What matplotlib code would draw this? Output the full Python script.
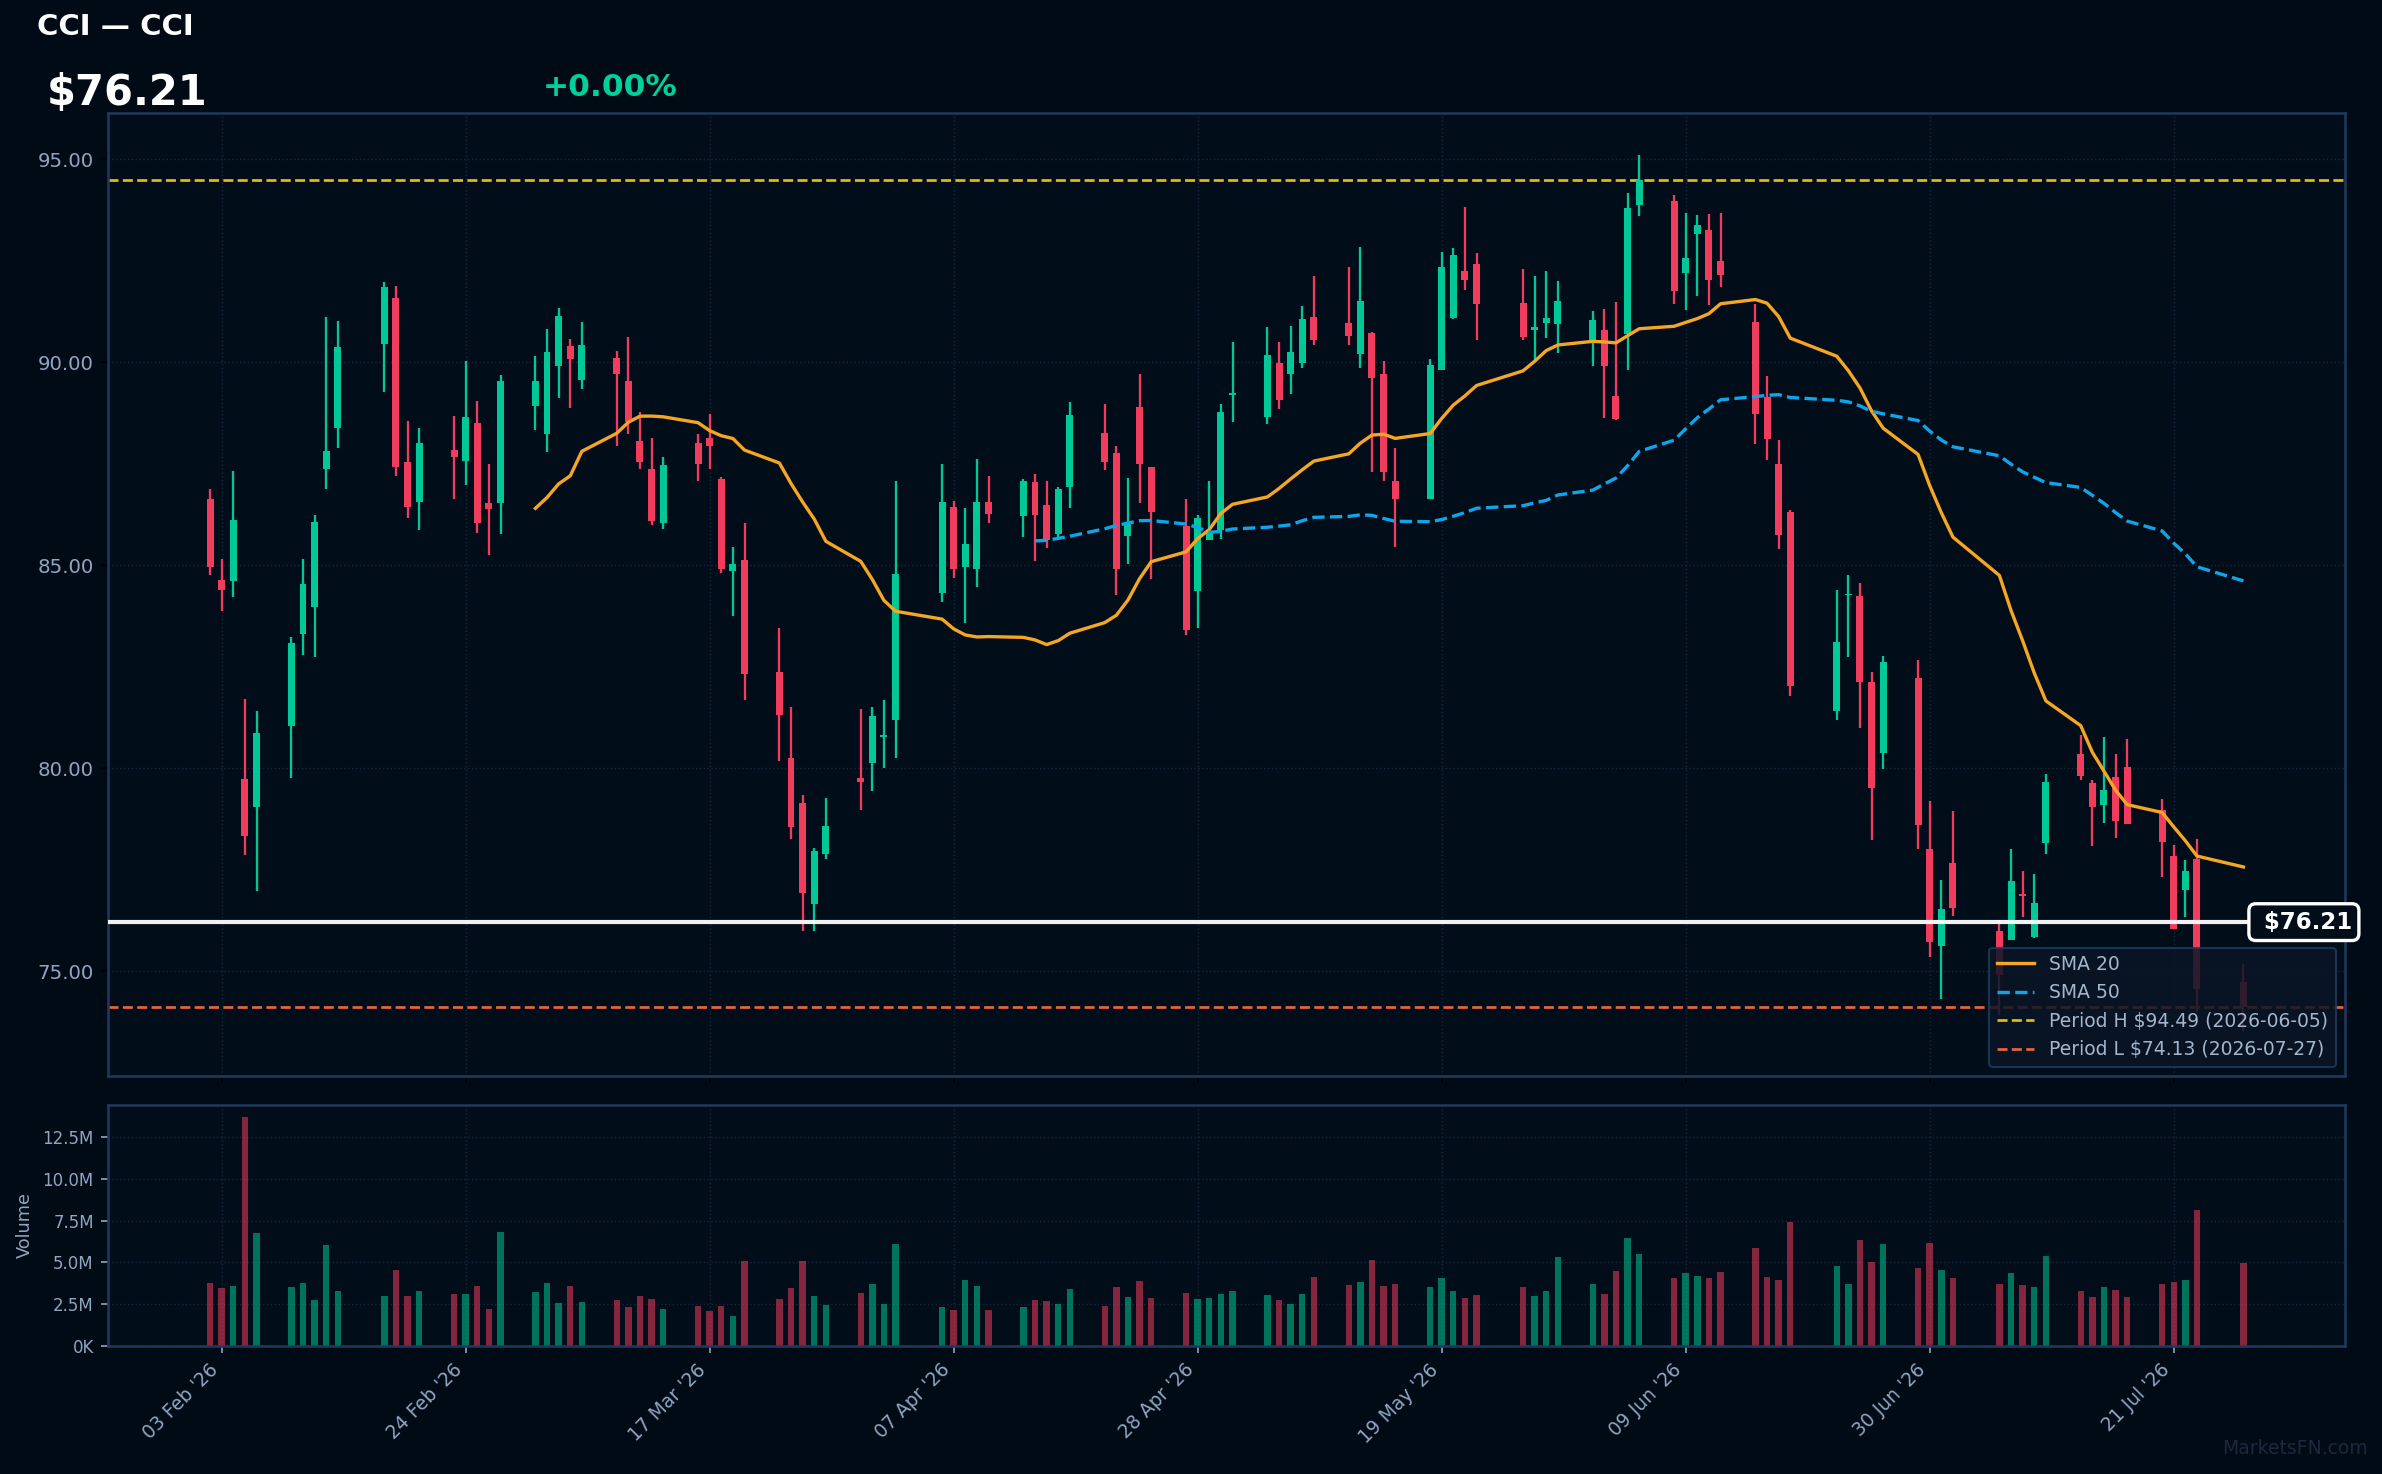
import matplotlib
matplotlib.use("Agg")
import matplotlib.pyplot as plt
import matplotlib.dates as mdates
from matplotlib.ticker import FuncFormatter, MultipleLocator
import numpy as np
import pandas as pd

# ---- data ----
dates = [
    "2026-02-02", "2026-02-03", "2026-02-04", "2026-02-05", "2026-02-06",
    "2026-02-09", "2026-02-10", "2026-02-11", "2026-02-12", "2026-02-13",
    "2026-02-17", "2026-02-18", "2026-02-19", "2026-02-20",
    "2026-02-23", "2026-02-24", "2026-02-25", "2026-02-26", "2026-02-27",
    "2026-03-02", "2026-03-03", "2026-03-04", "2026-03-05", "2026-03-06",
    "2026-03-09", "2026-03-10", "2026-03-11", "2026-03-12", "2026-03-13",
    "2026-03-16", "2026-03-17", "2026-03-18", "2026-03-19", "2026-03-20",
    "2026-03-23", "2026-03-24", "2026-03-25", "2026-03-26", "2026-03-27",
    "2026-03-30", "2026-03-31", "2026-04-01", "2026-04-02",
    "2026-04-06", "2026-04-07", "2026-04-08", "2026-04-09", "2026-04-10",
    "2026-04-13", "2026-04-14", "2026-04-15", "2026-04-16", "2026-04-17",
    "2026-04-20", "2026-04-21", "2026-04-22", "2026-04-23", "2026-04-24",
    "2026-04-27", "2026-04-28", "2026-04-29", "2026-04-30", "2026-05-01",
    "2026-05-04", "2026-05-05", "2026-05-06", "2026-05-07", "2026-05-08",
    "2026-05-11", "2026-05-12", "2026-05-13", "2026-05-14", "2026-05-15",
    "2026-05-18", "2026-05-19", "2026-05-20", "2026-05-21", "2026-05-22",
    "2026-05-26", "2026-05-27", "2026-05-28", "2026-05-29",
    "2026-06-01", "2026-06-02", "2026-06-03", "2026-06-04", "2026-06-05",
    "2026-06-08", "2026-06-09", "2026-06-10", "2026-06-11", "2026-06-12",
    "2026-06-15", "2026-06-16", "2026-06-17", "2026-06-18",
    "2026-06-22", "2026-06-23", "2026-06-24", "2026-06-25", "2026-06-26",
    "2026-06-29", "2026-06-30", "2026-07-01", "2026-07-02",
    "2026-07-06", "2026-07-07", "2026-07-08", "2026-07-09", "2026-07-10",
    "2026-07-13", "2026-07-14", "2026-07-15", "2026-07-16", "2026-07-17",
    "2026-07-20", "2026-07-21", "2026-07-22", "2026-07-23",
    "2026-07-27",
]

opens = [
    86.63, 84.63, 84.60, 79.73, 79.05, 81.04, 83.31, 83.98, 87.36, 88.37,
    90.44, 91.58, 87.54, 86.57, 87.84, 87.57, 88.50, 86.54, 86.54,
    88.91, 88.24, 89.91, 90.40, 89.56, 90.10, 89.53, 88.05, 87.37, 86.03,
    88.01, 88.13, 87.13, 84.85, 85.12, 82.37, 80.25, 79.14, 76.65, 77.90,
    79.76, 80.13, 80.76, 81.20, 84.31, 86.43, 84.95, 84.91, 86.56,
    86.22, 87.05, 86.48, 85.76, 86.93, 88.25, 87.76, 85.73, 88.89, 87.41,
    85.97, 84.37, 85.63, 85.86, 89.20, 88.65, 89.99, 89.71, 89.99, 91.11,
    90.97, 90.21, 90.72, 89.71, 87.07, 86.64, 89.80, 91.09, 92.25, 92.41,
    91.46, 90.79, 90.97, 90.93, 90.55, 90.79, 89.17, 90.69, 93.88,
    93.97, 92.21, 93.17, 93.25, 92.49, 90.99, 89.14, 87.49, 86.30,
    81.42, 84.26, 84.24, 82.12, 80.37, 82.22, 78.01, 75.62, 77.67,
    75.99, 75.78, 76.91, 75.84, 78.15, 80.34, 79.63, 79.09, 79.78, 80.04,
    78.98, 77.85, 76.99, 77.77, 74.73,
]
highs = [
    86.87, 85.15, 87.32, 81.71, 81.40, 83.24, 85.15, 86.23, 91.11, 91.02,
    91.97, 91.87, 88.55, 88.38, 88.67, 90.02, 89.04, 87.49, 89.69,
    90.15, 90.82, 91.33, 90.57, 90.99, 90.28, 90.62, 88.77, 88.13, 87.66,
    88.23, 88.72, 87.17, 85.44, 86.04, 83.45, 81.50, 79.34, 78.04, 79.27,
    81.45, 81.50, 81.68, 87.07, 87.49, 86.58, 86.41, 87.61, 87.20,
    87.12, 87.25, 87.07, 86.92, 89.02, 88.97, 87.94, 87.15, 89.71, 87.43,
    86.63, 86.23, 87.07, 88.97, 90.51, 90.87, 90.51, 90.89, 91.38, 92.12,
    92.34, 92.84, 90.74, 90.02, 87.89, 90.07, 92.71, 92.81, 93.82, 92.69,
    92.30, 92.12, 92.25, 92.00, 91.26, 91.31, 91.48, 94.18, 95.10,
    94.12, 93.67, 93.62, 93.64, 93.67, 91.43, 89.66, 88.08, 86.35,
    84.39, 84.75, 84.56, 82.37, 82.76, 82.66, 79.19, 77.25, 78.95,
    76.27, 78.01, 77.47, 77.40, 79.85, 80.83, 79.70, 80.76, 80.34, 80.71,
    79.24, 78.10, 77.74, 78.26, 75.18,
]
lows = [
    84.75, 83.88, 84.21, 77.87, 76.98, 79.77, 82.80, 82.75, 86.88, 87.88,
    89.26, 87.21, 86.17, 85.88, 86.64, 86.98, 85.80, 85.26, 85.78,
    88.34, 87.80, 89.11, 88.87, 89.35, 87.93, 88.24, 87.36, 86.00, 85.90,
    87.08, 87.36, 84.81, 83.75, 81.69, 80.17, 78.26, 75.99, 75.99, 77.77,
    78.97, 79.43, 80.00, 80.26, 84.09, 84.68, 83.57, 84.47, 86.03,
    85.70, 85.10, 85.42, 85.66, 86.41, 87.35, 84.27, 85.04, 86.53, 84.66,
    83.28, 83.46, 85.63, 85.64, 88.54, 88.47, 88.84, 89.22, 89.86, 90.43,
    90.43, 89.85, 87.29, 87.07, 85.45, 86.64, 89.80, 91.07, 91.78, 90.55,
    90.55, 90.06, 90.59, 90.23, 89.90, 88.62, 88.58, 89.80, 93.61,
    91.43, 91.28, 91.63, 91.41, 91.85, 87.98, 87.59, 85.40, 81.79,
    81.20, 82.73, 80.99, 78.23, 79.99, 78.00, 75.36, 74.31, 76.37,
    73.93, 75.78, 76.34, 75.81, 77.88, 79.70, 78.08, 78.65, 78.27, 78.63,
    77.32, 76.04, 76.34, 74.00, 73.52,
]
closes = [
    84.95, 84.39, 86.12, 78.34, 80.86, 83.09, 84.53, 86.07, 87.81, 90.38,
    91.85, 87.41, 86.44, 88.01, 87.67, 88.64, 86.03, 86.39, 89.53,
    89.53, 90.25, 91.13, 90.09, 90.43, 89.72, 88.52, 87.55, 86.09, 87.46,
    87.49, 87.93, 84.91, 85.04, 82.33, 81.30, 78.55, 76.93, 77.96, 78.58,
    79.67, 81.29, 80.81, 84.78, 86.56, 84.91, 85.53, 86.56, 86.27,
    87.07, 86.24, 85.63, 86.87, 88.69, 87.54, 84.91, 86.04, 87.49, 86.32,
    83.41, 86.17, 85.79, 88.77, 89.25, 90.18, 89.07, 90.25, 91.07, 90.55,
    90.64, 91.51, 89.60, 87.29, 86.64, 89.92, 92.34, 92.64, 92.02, 91.44,
    90.62, 90.87, 91.09, 91.51, 91.04, 89.90, 88.60, 93.79, 94.49,
    91.76, 92.56, 93.38, 92.03, 92.16, 88.73, 88.11, 85.75, 82.03,
    83.11, 84.30, 82.12, 79.51, 82.61, 78.60, 75.71, 76.54, 76.57,
    74.91, 77.22, 76.86, 76.67, 79.66, 79.81, 79.04, 79.46, 78.71, 78.63,
    78.18, 76.04, 77.47, 74.56, 74.13,
]
volume_m = [
    3.75, 3.45, 3.57, 13.70, 6.75, 3.51, 3.75, 2.74, 6.03, 3.27,
    2.98, 4.53, 2.98, 3.27, 3.10, 3.10, 3.57, 2.20, 6.81,
    3.21, 3.75, 2.56, 3.57, 2.62, 2.74, 2.32, 2.98, 2.80, 2.20,
    2.38, 2.08, 2.38, 1.78, 5.07, 2.80, 3.45, 5.07, 2.98, 2.44,
    3.15, 3.69, 2.50, 6.09, 2.32, 2.14, 3.93, 3.57, 2.14,
    2.32, 2.74, 2.68, 2.50, 3.39, 2.38, 3.51, 2.92, 3.87, 2.86,
    3.15, 2.80, 2.86, 3.10, 3.27, 3.04, 2.74, 2.50, 3.10, 4.11,
    3.63, 3.81, 5.13, 3.57, 3.69, 3.51, 4.05, 3.27, 2.86, 3.04,
    3.51, 2.98, 3.27, 5.31, 3.69, 3.10, 4.47, 6.45, 5.49,
    4.05, 4.35, 4.17, 4.05, 4.41, 5.85, 4.11, 3.93, 7.41,
    4.77, 3.69, 6.33, 5.01, 6.09, 4.65, 6.15, 4.53, 4.05,
    3.69, 4.35, 3.63, 3.51, 5.37, 3.27, 2.92, 3.51, 3.33, 2.92,
    3.69, 3.81, 3.93, 8.13, 4.95,
]

ticker = "CCI"
last_price = 76.21
change_pct = 0.00
period_high = (94.49, "2026-06-05")
period_low = (74.13, "2026-07-27")
tick_dates = ["2026-02-03", "2026-02-24", "2026-03-17", "2026-04-07", "2026-04-28",
              "2026-05-19", "2026-06-09", "2026-06-30", "2026-07-21"]

# ---- colours ----
BG = "#010b16"
PANEL = "#020d1a"
SPINE = "#1e3a5f"
GRID = "#16263a"
TXT = "#8fa6c0"
UP = "#00c896"
DOWN = "#f23c5d"

x = mdates.date2num(pd.to_datetime(dates))
o = np.array(opens); h = np.array(highs); l = np.array(lows); c = np.array(closes)
vol = np.array(volume_m) * 1e6
up = c >= o
cols = np.where(up, UP, DOWN)
sma20 = pd.Series(c).rolling(20).mean()
sma50 = pd.Series(c).rolling(50).mean()

fig = plt.figure(figsize=(2382 / 150, 1474 / 150), dpi=150, facecolor=BG)
ax = fig.add_axes([0.0455, 0.2700, 0.9390, 0.6531])
axv = fig.add_axes([0.0455, 0.0870, 0.9390, 0.1633], sharex=ax)

for a in (ax, axv):
    a.set_facecolor(PANEL)
    for s in a.spines.values():
        s.set_color(SPINE)
        s.set_linewidth(1.2)
    a.grid(True, color=GRID, linestyle=":", linewidth=0.7)
    a.set_axisbelow(True)

# candles
ax.vlines(x, l, h, colors=cols, linewidth=1.1, zorder=3)
ax.bar(x, np.abs(c - o), bottom=np.minimum(o, c), width=0.6, color=cols,
       linewidth=0, zorder=4)

ax.plot(x, sma20, color="#f5a623", lw=1.6, label="SMA 20", zorder=5)
ax.plot(x, sma50, color="#0ea5e9", lw=1.6, ls="--", label="SMA 50", zorder=5)
ax.axhline(period_high[0], color="#e6bb0a", lw=1.3, ls="--",
           label=f"Period H ${period_high[0]:.2f} ({period_high[1]})", zorder=2)
ax.axhline(period_low[0], color="#e8643c", lw=1.3, ls="--",
           label=f"Period L ${period_low[0]:.2f} ({period_low[1]})", zorder=2)
ax.axhline(last_price, color="white", lw=2.0, alpha=0.95, zorder=6)
ax.text(1.0031, last_price, f" ${last_price:.2f}", transform=ax.get_yaxis_transform(),
        ha="right", va="center", fontsize=11, fontweight="bold", color="white",
        bbox=dict(boxstyle="round,pad=0.3", fc=PANEL, ec="white", lw=1.6),
        zorder=10, clip_on=False)

ax.set_ylim(72.42, 96.13)
ax.set_xlim(x[0] - 8.75, x[-1] + 8.75)
ax.yaxis.set_major_locator(MultipleLocator(5))
ax.yaxis.set_major_formatter(FuncFormatter(lambda v, p: f"{v:.2f}"))
ax.tick_params(axis="y", colors="black", labelcolor=TXT, labelsize=9.5)
ax.tick_params(axis="x", colors="black", labelbottom=False)

leg = ax.legend(loc="lower right", fontsize=9, facecolor="#0a1626", edgecolor=SPINE,
                framealpha=0.85, labelcolor="#a3b6cc")
leg.set_zorder(20)

# volume
axv.bar(x, vol, width=0.55, color=cols, alpha=0.55, linewidth=0)
axv.set_ylim(0, vol.max() * 1.053)
axv.yaxis.set_major_locator(MultipleLocator(2.5e6))
axv.yaxis.set_major_formatter(FuncFormatter(
    lambda v, p: f"{v / 1e6:.1f}M" if v >= 1e6 else f"{v / 1e3:.0f}K"))
axv.set_ylabel("Volume", color=TXT, fontsize=8.5)
axv.tick_params(axis="y", colors=TXT, labelsize=8)
axv.tick_params(axis="x", colors=TXT, labelsize=9)
axv.set_xticks(mdates.date2num(pd.to_datetime(tick_dates)))
axv.xaxis.set_major_formatter(mdates.DateFormatter("%d %b '%y"))
plt.setp(axv.get_xticklabels(), rotation=45, ha="right")

# header
fig.text(0.0154, 0.982, f"{ticker} — {ticker}", color="white", fontsize=14,
         fontweight="bold", va="center")
fig.text(0.0197, 0.9367, f"${last_price:.2f}", color="white", fontsize=20,
         fontweight="bold", va="center")
fig.text(0.228, 0.9408, f"+{change_pct:.2f}%", color="#00d09c", fontsize=15,
         fontweight="bold", va="center")
fig.text(0.994, 0.0176, "MarketsFN.com", color="#1a2a3c", fontsize=9,
         ha="right", va="center")

fig.savefig("out.png", dpi=150, facecolor=BG)
